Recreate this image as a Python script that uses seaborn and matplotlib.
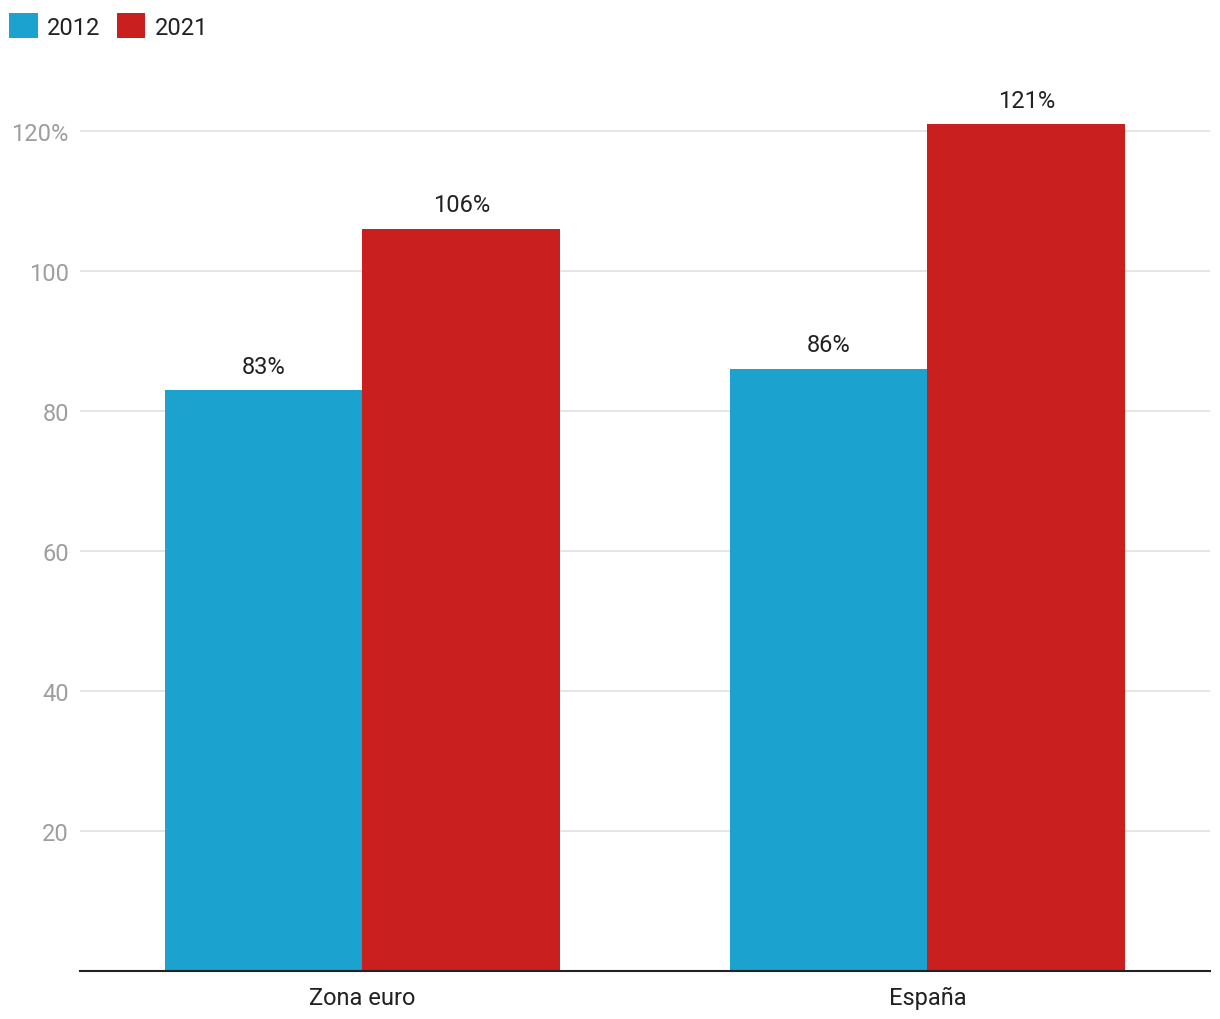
import matplotlib
matplotlib.use("Agg")
import matplotlib.pyplot as plt
import seaborn as sns
import pandas as pd
from matplotlib.patches import Patch

categories = ["Zona euro", "España"]
years = ["2012", "2021"]
values_2012 = [83, 86]
values_2021 = [106, 121]
ytick_values = [20, 40, 60, 80, 100, 120]
ytick_labels = ["20", "40", "60", "80", "100", "120%"]

colors = {"2012": "#1ba2cf", "2021": "#c91f1f"}

df = pd.DataFrame({
    "cat": categories * 2,
    "year": [years[0]] * 2 + [years[1]] * 2,
    "val": values_2012 + values_2021,
})

sns.set_theme(style="white")
plt.rcParams["font.family"] = ["Roboto", "DejaVu Sans"]

fig = plt.figure(figsize=(12.2, 10.2), dpi=100)
ax = fig.add_axes([80 / 1220, 48 / 1020, 1130 / 1220, 910 / 1020])

sns.barplot(data=df, x="cat", y="val", hue="year", palette=colors,
            width=0.7, gap=0, saturation=1, ax=ax, legend=False,
            linewidth=0, edgecolor="none")

ax.set_xlim(-0.5, 1.5)
ax.set_ylim(0, 130)
ax.set_yticks(ytick_values)
ax.set_yticklabels(ytick_labels)
ax.tick_params(axis="y", length=0, labelsize=17, labelcolor="#9e9e9e", pad=8)
ax.tick_params(axis="x", length=0, labelsize=17, labelcolor="#212121", pad=10.5)
ax.set_xlabel("")
ax.set_ylabel("")
ax.yaxis.grid(True, color="#e0e0e0", linewidth=1.2)
ax.set_axisbelow(True)
for s in ["top", "right", "left"]:
    ax.spines[s].set_visible(False)
ax.spines["bottom"].set_color("#222222")
ax.spines["bottom"].set_linewidth(1.5)

for cont in ax.containers:
    ax.bar_label(cont, fmt="%g%%", padding=9, fontsize=17, color="#212121")

handles = [Patch(facecolor=colors[y], edgecolor="none", label=y) for y in years]
fig.legend(handles=handles, loc="upper left", bbox_to_anchor=(0.0, 1.0 - 5 / 1020),
           ncol=2, frameon=False, fontsize=17, handlelength=1.2, handleheight=1.2,
           handletextpad=0.4, columnspacing=0.7, borderaxespad=0.1,
           borderpad=0.3, labelcolor="#212121")

fig.savefig("out.png", dpi=100, facecolor="white")
